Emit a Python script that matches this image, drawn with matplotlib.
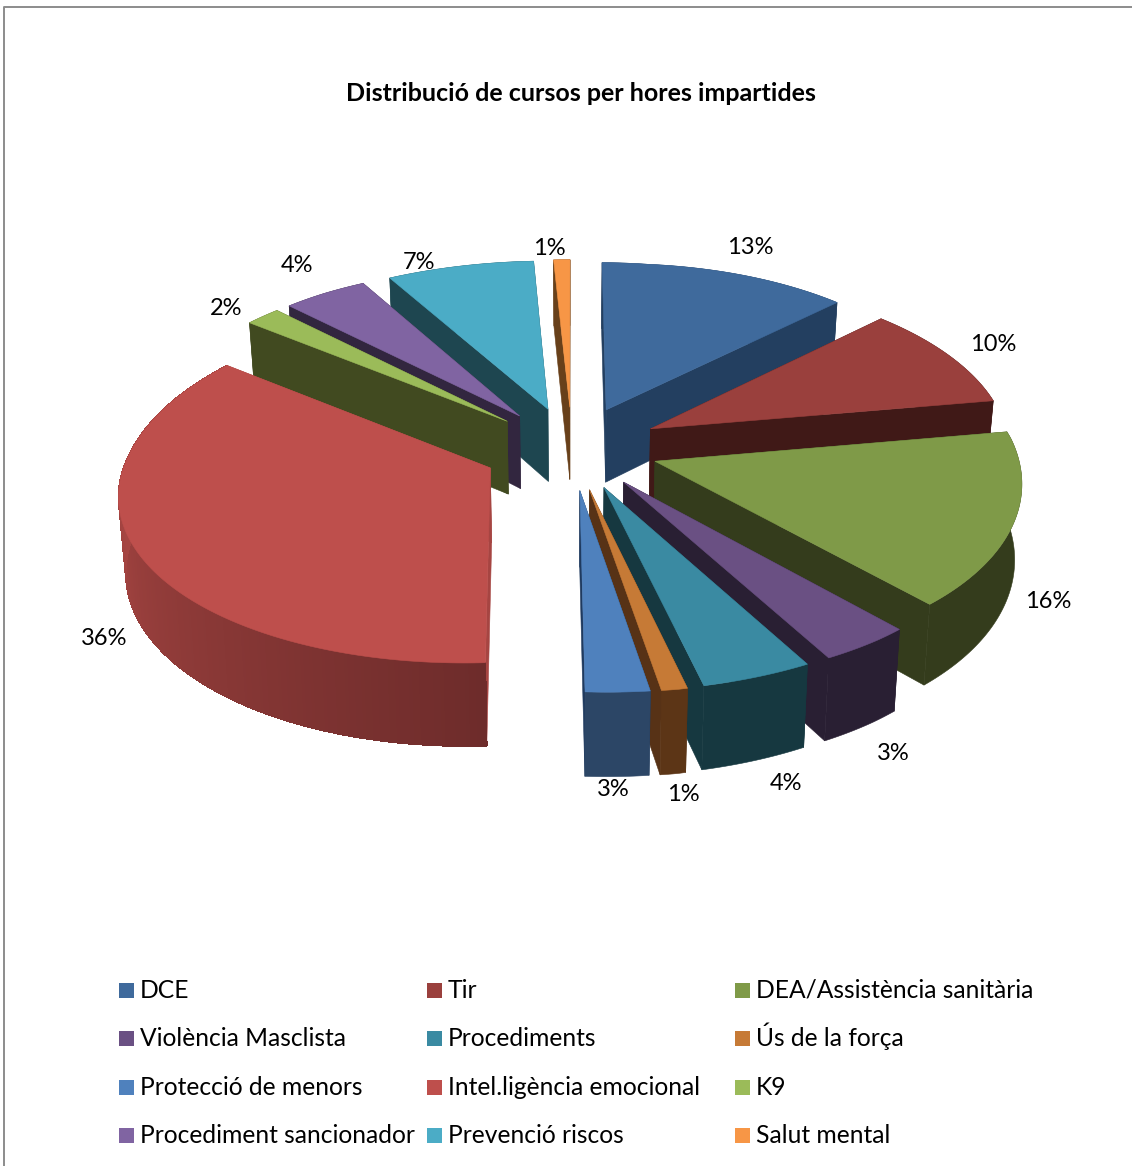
import numpy as np
import matplotlib
matplotlib.use("Agg")
import matplotlib.pyplot as plt
from matplotlib.colors import to_rgb

plt.rcParams['font.family'] = ['Lato', 'DejaVu Sans']

title = "Distribució de cursos per hores impartides"
names = ["DCE", "Tir", "DEA/Assistència sanitària",
         "Violència Masclista", "Procediments", "Ús de la força",
         "Protecció de menors", "Intel.ligència emocional", "K9",
         "Procediment sancionador", "Prevenció riscos", "Salut mental"]
# printed labels
percents = [13, 10, 16, 3, 4, 1, 3, 36, 2, 4, 7, 1]
# slice sizes as they look on the picture
shares = [13.15, 9.85, 15.5, 3.6, 4.3, 1.0, 2.45, 36.15, 1.75, 4.2, 7.25, 0.8]

tops = ["#3F6A9C", "#9A403D", "#7F9A48", "#6A5083", "#3A8AA2", "#C67A36",
        "#4F81BD", "#BE4F4C", "#9BBB59", "#8064A2", "#4BACC6", "#F79646"]
walls = ["#233F60", "#401917", "#343C1C", "#291F33", "#163840", "#5C3516",
         "#2C4666", "#6E2C2B", "#414A20", "#32263F", "#1E4650", "#68401A"]
radial = ["#233F60", "#401917", "#343C1C", "#291F33", "#163840", "#573216",
          "#1F3A5F", "#A64542", "#414A20", "#32263F", "#1E4650", "#68401A"]

label_x = [750, 993, 1048, 893, 786, 683, 613, 104, 226, 297, 419, 549]
label_y = [254, 351, 608, 760, 790, 801, 796, 645, 315, 272, 269, 255]

legend_x = [119, 427, 735]
legend_y = [990, 1038, 1087, 1135]

# camera
CX, CY = 572, 448
R_RIGHT, R_LEFT = 358, 365.5
K = 170.6
AY = 0.103
AX_RIGHT_BACK, AX_RIGHT_FRONT, AX_LEFT = 0.14, 0.13, 0.096
EXPLODE = 0.245
H = 74
ROLL = 0.022


def project(u, v, bottom=False):
    u = np.asarray(u, dtype=float)
    v = np.asarray(v, dtype=float)
    rk = np.where(u > 0, R_RIGHT, R_LEFT)
    ax_k = np.where(u > 0, np.where(v > 0, AX_RIGHT_BACK, AX_RIGHT_FRONT), AX_LEFT)
    ay_k = AY + 0.01 * np.clip(u * 4, 0, 1)
    x = CX + rk * u / (1 + ax_k * v)
    y = CY - K * v / (1 + ay_k * v)
    roll_k = np.where(u > 0, np.clip(1 + v, 0, 1), np.clip(1 - v, 0, 1))
    y = y - ROLL * (x - CX) * roll_k
    if bottom:
        x = CX + (x - CX) * 0.984
        y = y + H / (1 + 0.1 * v)
    return x, y


def quad(ax, xs, ys, color, z, aa=True):
    ax.fill(xs, ys, facecolor=color, edgecolor=color, lw=0.4, zorder=z, antialiased=aa)


def wall_color(i, th):
    f = np.clip((th - 180) / 90, 0, 1)
    a = np.array(to_rgb(walls[i]))
    b = np.array(to_rgb("#A64542"))
    return tuple(a + (b - a) * f)


fig = plt.figure(figsize=(11.32, 11.66), dpi=100)
ax = fig.add_axes([0, 0, 1, 1])
ax.set_xlim(0, 1132)
ax.set_ylim(1166, 0)
ax.axis("off")

# page border
ax.plot([3.5, 3.5, 1132], [1166, 7, 7], color="#8C8C8C", lw=1.4)

total = sum(shares)
edges = np.cumsum([0] + shares) / total * 360
mids = (edges[:-1] + edges[1:]) / 2
order = np.argsort(-np.cos(np.radians(mids)))

z = 1
for i in order:
    t0, t1 = edges[i], edges[i + 1]
    m = np.radians(mids[i])
    ou, ov = EXPLODE * np.sin(m), EXPLODE * np.cos(m)
    th = np.linspace(t0, t1, max(4, int((t1 - t0) * 2)))
    u = ou + np.sin(np.radians(th))
    v = ov + np.cos(np.radians(th))

    xt, yt = project(u, v)
    xb, yb = project(u, v, True)
    ax_t, ay_t = project(ou, ov)
    ax_b, ay_b = project(ou, ov, True)

    # radial sides
    for j in (0, -1):
        quad(ax, [ax_t, xt[j], xb[j], ax_b], [ay_t, yt[j], yb[j], ay_b], radial[i], z)
    z += 1
    # rim
    quad(ax, np.r_[xt, xb[::-1]], np.r_[yt, yb[::-1]], walls[i], z)
    z += 1
    if names[i].startswith("Intel"):
        for j in range(len(th) - 1):
            quad(ax, [xt[j], xt[j + 1], xb[j + 1], xb[j]],
                 [yt[j], yt[j + 1], yb[j + 1], yb[j]],
                 wall_color(i, (th[j] + th[j + 1]) / 2), z, aa=False)
        z += 1
    # top face
    quad(ax, np.r_[ax_t, xt], np.r_[ay_t, yt], tops[i], z)
    z += 1

for i, p in enumerate(percents):
    ax.text(label_x[i], label_y[i], f"{p}%", ha="center", va="baseline",
            fontsize=17, color="black", zorder=100)

ax.text(581, 101, title, ha="center", va="baseline", fontsize=18,
        fontweight="bold", color="black", zorder=100)

for i, name in enumerate(names):
    lx = legend_x[i % 3]
    ly = legend_y[i // 3]
    ax.fill([lx, lx + 15, lx + 15, lx], [ly - 7.5, ly - 7.5, ly + 7.5, ly + 7.5],
            color=tops[i], lw=0, zorder=100)
    ax.text(lx + 21, ly + 8, name, ha="left", va="baseline", fontsize=17.7,
            color="black", zorder=100)

fig.savefig("out.png", dpi=100)
